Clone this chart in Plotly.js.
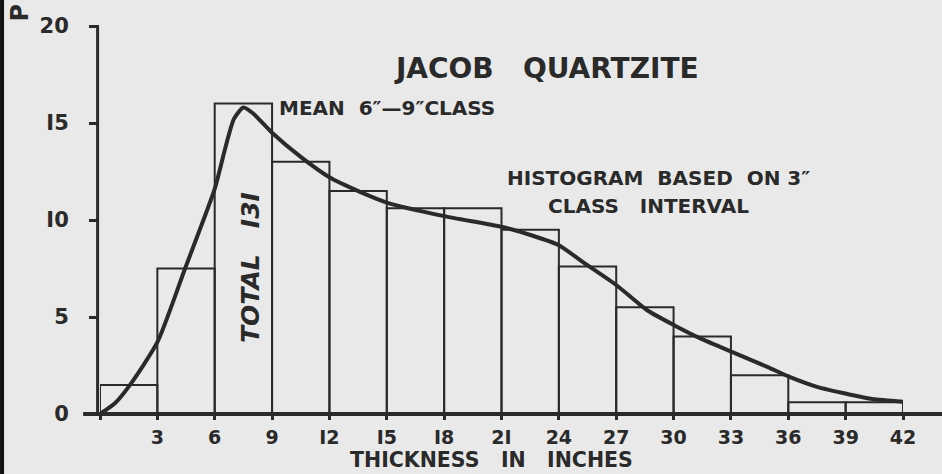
<!DOCTYPE html>
<html>
<head>
<meta charset="utf-8">
<script src="https://cdn.plot.ly/plotly-3.0.1.min.js"></script>
<style>html,body{margin:0;padding:0;background:#e9e9e9;}#chart{width:942px;height:474px;}</style>
</head>
<body>
<div id="chart"></div>
<script>
// Histogram classes (3-inch class interval), centre of each class
const classMid = [1.5, 4.5, 7.5, 10.5, 13.5, 16.5, 19.5, 22.5, 25.5, 28.5, 31.5, 34.5, 37.5, 40.5];
// Percent of beds in each class
const classPct = [1.5, 7.5, 16.0, 13.0, 11.5, 10.6, 10.6, 9.5, 7.6, 5.5, 4.0, 2.0, 0.6, 0.6];
// Smoothed frequency curve
const curveX = [0, 0.78, 1.57, 3.0, 4.45, 6.0, 6.55, 7.0, 7.5, 8.0, 9.0, 10.5, 12.0, 13.6, 15.0, 18.0, 21.0, 22.6, 24.0, 25.3, 27.0, 28.6, 30.1, 31.4, 33.2, 34.9, 36.1, 37.5, 39.1, 40.4, 42.2];
const curveY = [0, 0.55, 1.5, 3.7, 7.5, 11.6, 13.7, 15.2, 15.8, 15.5, 14.5, 13.25, 12.2, 11.45, 10.9, 10.2, 9.65, 9.2, 8.7, 7.8, 6.65, 5.36, 4.54, 3.9, 3.14, 2.43, 1.9, 1.4, 1.03, 0.77, 0.62];
// Axis ticks
const xTickVals = [0, 3, 6, 9, 12, 15, 18, 21, 24, 27, 30, 33, 36, 39, 42];
const xTickText = ["", "3", "6", "9", "I2", "I5", "I8", "2I", "24", "27", "30", "33", "36", "39", "42"];
const yTickVals = [0, 5, 10, 15, 20];
const yTickText = ["0", "5", "I0", "I5", "20"];

const ink = "#2a2a2a";
const bg = "#e9e9e9";
const font = "DejaVu Sans, sans-serif";
const NB = "\u00A0";

const traces = [
  {
    type: "bar",
    x: classMid,
    y: classPct,
    width: 3,
    marker: {color: "rgba(0,0,0,0)", line: {color: ink, width: 2}},
    hoverinfo: "x+y"
  },
  {
    type: "scatter",
    mode: "lines",
    x: curveX,
    y: curveY,
    line: {color: ink, width: 4, shape: "spline", smoothing: 0.6},
    cliponaxis: false
  }
];

const layout = {
  width: 942,
  height: 474,
  margin: {l: 100, r: 39, t: 26, b: 60},
  paper_bgcolor: bg,
  plot_bgcolor: bg,
  showlegend: false,
  bargap: 0,
  font: {family: font, color: ink},
  title: {
    text: "JACOB" + NB + NB + NB + "QUARTZITE",
    font: {family: font, size: 28, color: ink, weight: "bold"},
    xref: "paper", x: 0.557, xanchor: "center",
    yref: "container", y: 0.857, yanchor: "middle"
  },
  xaxis: {
    range: [0, 42],
    tickvals: xTickVals,
    ticktext: xTickText,
    ticks: "outside",
    ticklen: 5,
    tickwidth: 3,
    tickcolor: ink,
    ticklabelstandoff: 1,
    tickfont: {family: font, size: 19, color: ink, weight: "bold"},
    showgrid: false,
    zeroline: false,
    showline: false,
    fixedrange: true
  },
  yaxis: {
    range: [0, 20],
    tickvals: yTickVals,
    ticktext: yTickText,
    ticks: "outside",
    ticklen: 10,
    tickwidth: 3,
    tickcolor: ink,
    ticklabelstandoff: 16,
    tickfont: {family: font, size: 21, color: ink, weight: "bold"},
    showgrid: false,
    zeroline: false,
    showline: false,
    fixedrange: true
  },
  shapes: [
    // y axis line
    {type: "line", xref: "paper", yref: "paper", x0: -0.003, x1: -0.003, y0: 0, y1: 1, line: {color: ink, width: 3}},
    // x axis line extending beyond the plotting range
    {type: "line", xref: "paper", yref: "paper", x0: -0.021, x1: 1.06, y0: 0, y1: 0, line: {color: ink, width: 4}},
    // dark left edge of the scanned sheet
    {type: "line", xref: "paper", yref: "paper", x0: -0.122, x1: -0.122, y0: -0.2, y1: 1.1, line: {color: "#111", width: 4}}
  ],
  annotations: [
    {text: "MEAN" + NB + NB + "6″—9″CLASS", xref: "x", yref: "y", x: 15.0, y: 15.77,
     showarrow: false, font: {family: font, size: 20, color: ink, weight: "bold"}},
    {text: "HISTOGRAM" + NB + NB + "BASED" + NB + NB + "ON" + NB + "3″", xref: "x", yref: "y", x: 29.2, y: 12.16,
     showarrow: false, font: {family: font, size: 20, color: ink, weight: "bold"}},
    {text: "CLASS" + NB + NB + NB + "INTERVAL", xref: "x", yref: "y", x: 28.7, y: 10.72,
     showarrow: false, font: {family: font, size: 20, color: ink, weight: "bold"}},
    {text: "<i>TOTAL" + NB + NB + NB + "I3I</i>", xref: "x", yref: "y", x: 7.9, y: 7.53, textangle: -90,
     showarrow: false, font: {family: font, size: 25, color: ink, weight: "bold"}},
    {text: "THICKNESS" + NB + NB + NB + "IN" + NB + NB + NB + "INCHES", xref: "x", yref: "paper", x: 20.5, y: -0.119,
     yanchor: "middle", showarrow: false, font: {family: font, size: 20.5, color: ink, weight: "bold"}},
    {text: "P", xref: "paper", yref: "paper", x: -0.12, y: 1.062, textangle: -90,
     showarrow: false, font: {family: font, size: 24, color: ink, weight: "bold"}}
  ]
};

Plotly.newPlot("chart", traces, layout, {displayModeBar: false, staticPlot: true});
</script>
</body>
</html>
